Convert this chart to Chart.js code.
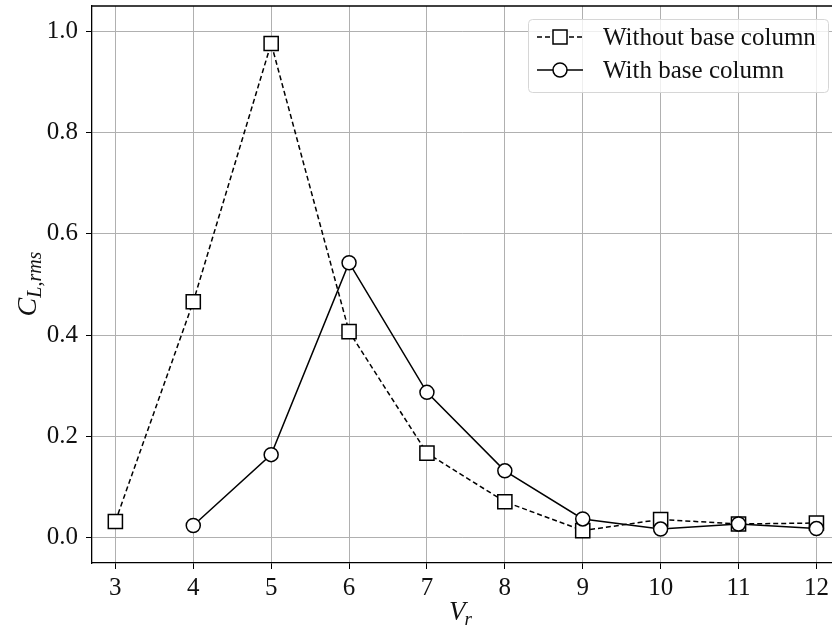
<!DOCTYPE html>
<html>
<head>
<meta charset="utf-8">
<script src="https://cdn.jsdelivr.net/npm/chart.js@4.4.1/dist/chart.umd.min.js"></script>
<style>
  html, body { margin: 0; padding: 0; background: #fff; overflow: hidden; }
  #wrap { width: 832px; height: 630px; position: relative; }
</style>
</head>
<body>
<div id="wrap"><canvas id="c" width="832" height="630"></canvas></div>
<script>
// ---- data ----
const vr = [3, 4, 5, 6, 7, 8, 9, 10, 11, 12];
const withoutBase = [0.032, 0.466, 0.976, 0.407, 0.167, 0.071, 0.014, 0.036, 0.027, 0.029];
const withBaseX = [4, 5, 6, 7, 8, 9, 10, 11, 12];
const withBase = [0.024, 0.164, 0.543, 0.287, 0.132, 0.037, 0.017, 0.027, 0.018];
const xTicks = [3, 4, 5, 6, 7, 8, 9, 10, 11, 12];
const yTicks = [0.0, 0.2, 0.4, 0.6, 0.8, 1.0];
const seriesLabels = ['Without base column', 'With base column'];

const FONT = "'Liberation Serif', 'DejaVu Serif', serif";

const overlay = {
  id: 'overlay',
  afterDraw(chart) {
    const ctx = chart.ctx;
    const a = chart.chartArea;
    ctx.save();
    // top border
    ctx.strokeStyle = '#000';
    ctx.lineWidth = 1.3;
    ctx.beginPath();
    ctx.moveTo(a.left, a.top);
    ctx.lineTo(a.right, a.top);
    ctx.stroke();

    // legend
    const lx = 528, ly = 19, lw = 300, lh = 73;
    ctx.fillStyle = 'rgba(255,255,255,0.8)';
    ctx.strokeStyle = '#d6d6d6';
    ctx.lineWidth = 1;
    ctx.beginPath();
    ctx.roundRect(lx + 0.5, ly + 0.5, lw, lh, 4);
    ctx.fill();
    ctx.stroke();

    const rows = [37, 70];
    chart.data.datasets.forEach((ds, i) => {
      const y = rows[i];
      ctx.strokeStyle = '#000';
      ctx.lineWidth = 1.5;
      ctx.setLineDash(ds.borderDash || []);
      ctx.beginPath();
      ctx.moveTo(537, y);
      ctx.lineTo(583, y);
      ctx.stroke();
      ctx.setLineDash([]);
      ctx.fillStyle = '#fff';
      ctx.lineWidth = 1.5;
      ctx.beginPath();
      if (ds.pointStyle === 'rect') {
        ctx.rect(560 - 7, y - 7, 14, 14);
      } else {
        ctx.arc(560, y, 7, 0, Math.PI * 2);
      }
      ctx.fill();
      ctx.stroke();
      ctx.fillStyle = '#111';
      ctx.font = '25px ' + FONT;
      ctx.textBaseline = 'middle';
      ctx.textAlign = 'left';
      ctx.fillText(ds.label, 603, y + 1);
    });

    // x title V_r
    ctx.fillStyle = '#111';
    ctx.textBaseline = 'alphabetic';
    ctx.font = 'italic 27px ' + FONT;
    const vW = ctx.measureText('V').width;
    ctx.font = 'italic 19px ' + FONT;
    const rW = ctx.measureText('r').width;
    let sx = 461 - (vW + rW) / 2;
    ctx.font = 'italic 27px ' + FONT;
    ctx.fillText('V', sx, 620);
    ctx.font = 'italic 19px ' + FONT;
    ctx.fillText('r', sx + vW - 1, 625);

    // y title C_{L,rms}
    ctx.translate(36, 284);
    ctx.rotate(-Math.PI / 2);
    ctx.font = 'italic 28px ' + FONT;
    const cW = ctx.measureText('C').width;
    ctx.font = 'italic 20px ' + FONT;
    const sW = ctx.measureText('L,rms').width;
    let tx = -(cW + sW) / 2;
    ctx.font = 'italic 28px ' + FONT;
    ctx.fillText('C', tx, 0);
    ctx.font = 'italic 20px ' + FONT;
    ctx.fillText('L,rms', tx + cW, 5);
    ctx.restore();
  }
};

new Chart(document.getElementById('c'), {
  type: 'line',
  data: {
    datasets: [
      {
        label: seriesLabels[0],
        data: vr.map((x, i) => ({ x: x, y: withoutBase[i] })),
        borderColor: '#000',
        borderWidth: 1.5,
        borderDash: [5, 3],
        pointStyle: 'rect',
        pointRadius: 10,
        pointBorderWidth: 1.5,
        pointBackgroundColor: '#fff',
        pointBorderColor: '#000',
        tension: 0,
        order: 2
      },
      {
        label: seriesLabels[1],
        data: withBaseX.map((x, i) => ({ x: x, y: withBase[i] })),
        borderColor: '#000',
        borderWidth: 1.5,
        pointStyle: 'circle',
        pointRadius: 7,
        pointBorderWidth: 1.5,
        pointBackgroundColor: '#fff',
        pointBorderColor: '#000',
        tension: 0,
        order: 1
      }
    ]
  },
  options: {
    responsive: false,
    animation: false,
    devicePixelRatio: 1,
    layout: { autoPadding: false, padding: { top: 6, right: 0, left: 0, bottom: 0 } },
    plugins: { legend: { display: false }, tooltip: { enabled: false } },
    scales: {
      x: {
        type: 'linear',
        min: 2.7,
        max: 12.2,
        afterBuildTicks(scale) { scale.ticks = xTicks.map(v => ({ value: v })); },
        afterFit(scale) { scale.height = 67; scale.paddingLeft = 0; scale.paddingRight = 0; },
        border: { color: '#000', width: 1.3 },
        grid: { color: '#b0b0b0', lineWidth: 1, tickColor: '#000', tickLength: 6, drawTicks: true },
        ticks: {
          color: '#111',
          font: { family: FONT, size: 25 },
          padding: 4,
          maxRotation: 0,
          autoSkip: false,
          callback: v => String(v)
        }
      },
      y: {
        type: 'linear',
        min: -0.05,
        max: 1.05,
        afterBuildTicks(scale) { scale.ticks = yTicks.map(v => ({ value: v })); },
        afterFit(scale) { scale.width = 92; scale.paddingTop = 0; scale.paddingBottom = 0; },
        border: { color: '#000', width: 1.3 },
        grid: { color: '#b0b0b0', lineWidth: 1, tickColor: '#000', tickLength: 6, drawTicks: true },
        ticks: {
          color: '#111',
          font: { family: FONT, size: 25 },
          padding: 8,
          autoSkip: false,
          callback: v => Number(v).toFixed(1)
        }
      }
    }
  },
  plugins: [overlay]
});
</script>
</body>
</html>
